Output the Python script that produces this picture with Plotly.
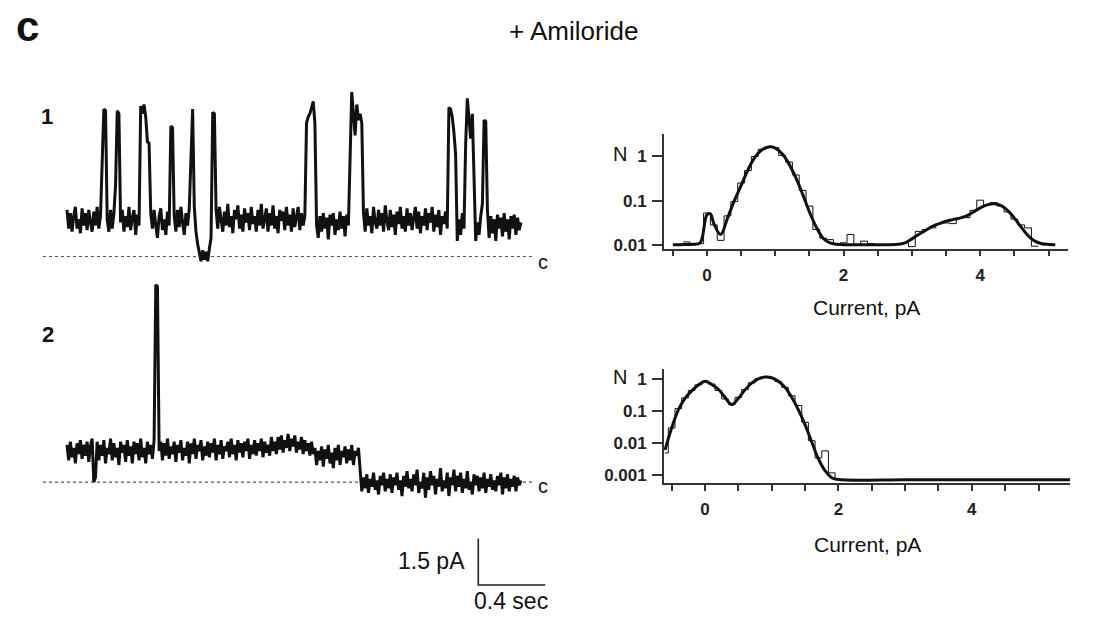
import plotly.graph_objects as go

FONT = "Liberation Sans, Arial, sans-serif"

# ---------------- data ----------------
DT = 0.01  # s per sample
# Trace 1 current (pA, relative to closed level "c")
trace1_pA = [
    1.5, 0.9, 1.4, 0.8, 1.3, 1.6, 0.9, 1.2, 0.75, 1.55,
    1.0, 1.4, 0.85, 1.5, 1.1, 0.8, 1.45, 1.0, 1.6, 0.9,
    1.3, 3.5, 4.75, 4.7, 1.2, 0.8, 1.5, 0.9, 1.4, 2.3,
    4.7, 4.6, 1.1, 1.5, 0.8, 1.3, 0.95, 1.6, 0.85, 1.25,
    1.5, 0.7, 1.35, 1.0, 4.85, 4.6, 4.9, 4.5, 3.7, 3.65,
    1.4, 0.9, 1.5, 1.0, 0.6, 1.3, 1.55, 0.85, 1.2, 0.7,
    1.45, 1.0, 4.2, 4.15, 1.3, 0.8, 1.5, 0.95, 1.6, 1.1,
    0.7, 1.4, 1.0, 1.55, 3.0, 4.75, 1.6, 0.8, 0.4, 0.1,
    -0.15, 0.2, -0.1, 0.15, -0.15, 0.25, 0.6, 4.65, 4.6, 1.5,
    0.9, 1.6, 1.1, 0.8, 1.45, 1.0, 1.7, 0.95, 1.3, 0.75,
    1.5, 1.2, 1.65, 0.9, 1.35, 0.8, 1.55, 1.1, 1.4, 0.85,
    1.6, 1.05, 1.3, 0.8, 1.5, 1.0, 1.7, 0.9, 1.2, 1.55,
    0.8, 1.4, 1.0, 1.65, 0.9, 1.3, 0.75, 1.5, 1.15, 1.45,
    0.85, 1.6, 1.0, 1.35, 0.8, 1.55, 0.95, 1.25, 1.6, 0.85,
    1.4, 1.0, 1.3, 4.3, 4.5, 4.6, 4.8, 5.0, 4.3, 1.0,
    0.6, 1.3, 0.8, 1.4, 0.9, 1.25, 0.55, 1.35, 1.0, 1.4,
    0.7, 1.2, 0.85, 1.45, 0.9, 1.3, 0.65, 1.35, 1.0, 3.1,
    5.3, 4.6, 3.9, 4.9, 4.4, 4.6, 4.3, 1.4, 0.8, 1.55,
    1.0, 1.3, 0.75, 1.6, 1.1, 0.9, 1.5, 1.0, 1.4, 0.8,
    1.65, 1.15, 0.85, 1.5, 0.95, 1.35, 0.7, 1.45, 1.05, 1.6,
    0.9, 1.3, 0.8, 1.55, 1.0, 1.4, 0.85, 1.25, 1.6, 0.9,
    1.45, 0.75, 1.3, 1.0, 1.55, 0.85, 1.4, 1.1, 1.6, 0.8,
    1.35, 0.95, 1.5, 0.7, 1.3, 1.05, 1.45, 0.9, 4.8, 4.75,
    4.5, 4.0, 3.3, 0.5, 1.2, 0.7, 1.4, 0.9, 3.6, 5.1,
    4.5, 3.8, 4.6, 2.0, 0.5, 1.1, 0.7, 1.3, 1.7, 4.4,
    4.35, 1.5, 0.6, 1.3, 0.75, 1.2, 0.5, 1.35, 0.9, 1.25,
    0.65, 1.4, 0.8, 1.2, 0.55, 1.3, 0.9, 1.35, 0.7, 1.25,
    0.85, 1.1,
]
# Trace 2 current (pA, relative to closed level "c")
trace2_pA = [
    1.2, 0.7, 1.3, 0.8, 1.1, 0.6, 1.25, 0.9, 1.35, 0.75,
    1.2, 0.85, 1.3, 0.65, 1.15, 1.4, 0.0, 0.15, 1.3, 0.7,
    1.2, 0.85, 1.35, 0.6, 1.1, 0.9, 1.4, 0.7, 1.25, 0.8,
    1.1, 0.55, 1.3, 0.95, 1.2, 0.65, 1.35, 0.85, 1.15, 0.6,
    1.3, 0.9, 1.25, 0.7, 1.4, 0.8, 1.1, 0.6, 1.3, 0.9,
    1.2, 0.75, 1.35, 6.36, 6.3, 1.0, 1.3, 0.7, 1.25, 0.85,
    1.4, 0.75, 1.15, 0.9, 1.3, 0.65, 1.2, 0.95, 1.35, 0.7,
    1.1, 0.85, 1.3, 0.6, 1.25, 0.9, 1.4, 0.75, 1.2, 1.0,
    1.35, 0.7, 1.15, 0.85, 1.3, 0.8, 1.25, 0.95, 1.4, 0.7,
    1.2, 0.9, 1.35, 0.75, 1.15, 1.0, 1.3, 0.8, 1.4, 0.9,
    1.2, 0.7, 1.35, 0.95, 1.25, 0.8, 1.3, 1.0, 1.4, 0.75,
    1.2, 0.9, 1.35, 0.85, 1.25, 1.0, 1.4, 0.8, 1.3, 0.95,
    1.2, 0.85, 1.45, 1.0, 1.3, 0.9, 1.45, 1.05, 1.5, 0.95,
    1.35, 1.1, 1.55, 1.0, 1.4, 1.15, 1.5, 0.95, 1.3, 1.05,
    1.45, 0.9, 1.35, 1.0, 1.25, 0.85, 1.3, 0.9, 1.1, 0.55,
    1.0, 0.7, 1.15, 0.5, 1.05, 0.75, 1.2, 0.6, 0.95, 0.45,
    1.1, 0.7, 1.2, 0.55, 1.0, 0.8, 1.15, 0.6, 1.05, 0.7,
    1.2, 0.55, 1.0, 0.85, 1.1, 0.2, -0.3, 0.15, -0.2, 0.25,
    -0.35, 0.1, -0.15, 0.3, -0.25, 0.05, -0.4, 0.2, -0.1, 0.3,
    -0.3, 0.1, -0.2, 0.25, -0.35, 0.15, -0.1, 0.3, -0.25, 0.05,
    -0.45, 0.2, -0.15, 0.35, -0.2, 0.1, -0.3, 0.25, -0.1, 0.4,
    -0.35, 0.0, -0.2, 0.3, -0.5, 0.15, -0.25, 0.35, -0.1, 0.2,
    -0.4, 0.1, -0.15, 0.45, -0.3, 0.05, -0.2, 0.3, -0.45, 0.15,
    -0.1, 0.4, -0.3, 0.2, -0.15, 0.3, -0.35, 0.1, -0.2, 0.35,
    -0.25, 0.0, -0.4, 0.25, -0.1, 0.2, -0.3, 0.15, -0.2, 0.3,
    -0.35, 0.1, -0.15, 0.25, -0.25, 0.05, -0.3, 0.2, -0.1, 0.3,
    -0.4, 0.15, -0.2, 0.25, -0.3, 0.1, -0.15, 0.2, -0.3, 0.15,
    -0.1, 0.05,
]

# Histogram 1 (amplitude histogram, log N) - fit curve
fit1_x = [-0.5, -0.4, -0.3, -0.2, -0.1, 0.0, 0.05, 0.1, 0.2, 0.3, 0.4, 0.5, 0.6, 0.7,
          0.8, 0.9, 1.0, 1.1, 1.2, 1.3, 1.4, 1.5, 1.6, 1.7, 1.8, 1.9, 2.0, 2.4, 2.8,
          2.9, 3.0, 3.1, 3.2, 3.3, 3.4, 3.5, 3.6, 3.7, 3.8, 3.9, 4.0, 4.1, 4.2, 4.3,
          4.4, 4.5, 4.6, 4.7, 4.8, 4.9, 5.0, 5.1]
fit1_N = [0.0100, 0.0100, 0.0101, 0.0102, 0.0110, 0.048, 0.050, 0.030, 0.017, 0.040,
          0.10, 0.22, 0.50, 0.95, 1.40, 1.65, 1.55, 1.15, 0.68, 0.33, 0.14, 0.055,
          0.025, 0.014, 0.011, 0.0102, 0.0100, 0.0099, 0.0102, 0.0110, 0.0135, 0.017,
          0.021, 0.026, 0.030, 0.034, 0.037, 0.040, 0.045, 0.055, 0.068, 0.080, 0.085,
          0.078, 0.060, 0.040, 0.025, 0.016, 0.012, 0.0105, 0.0101, 0.0100]
# Histogram 1 - bins (left edges, 0.1 pA wide)
hist1_x = [-0.35, -0.25, -0.15, -0.05, 0.05, 0.15, 0.25, 0.35, 0.45, 0.55, 0.65, 0.75,
           0.85, 0.95, 1.05, 1.15, 1.25, 1.35, 1.45, 1.55, 1.65, 1.75, 1.85, 1.95,
           2.05, 2.15, 2.25, 2.35, 2.45, 2.55, 2.65, 2.75, 2.85, 2.95, 3.05, 3.15,
           3.25, 3.35, 3.45, 3.55, 3.65, 3.75, 3.85, 3.95, 4.05, 4.15, 4.25, 4.35,
           4.45, 4.55, 4.65, 4.75, 4.85]
hist1_N = [0.0115, 0.0100, 0.0105, 0.052, 0.028, 0.0125, 0.045, 0.095, 0.25, 0.48,
           1.0, 1.45, 1.62, 1.60, 1.05, 0.75, 0.38, 0.17, 0.075, 0.022, 0.014, 0.013,
           0.0105, 0.011, 0.017, 0.010, 0.012, 0.0105, 0.0100, 0.0100, 0.0100, 0.0105,
           0.0110, 0.0090, 0.020, 0.022, 0.024, 0.030, 0.031, 0.030, 0.040, 0.041,
           0.060, 0.102, 0.080, 0.090, 0.075, 0.055, 0.038, 0.028, 0.024, 0.0092, 0.0092]

# Histogram 2 - fit curve
fit2_x = [-0.6, -0.5, -0.4, -0.3, -0.2, -0.1, 0.0, 0.1, 0.2, 0.3, 0.4, 0.5, 0.6, 0.7,
          0.8, 0.9, 1.0, 1.1, 1.2, 1.3, 1.4, 1.5, 1.6, 1.7, 1.8, 1.9, 2.0, 3.0, 4.0,
          5.0, 5.5]
fit2_N = [0.0062, 0.030, 0.11, 0.25, 0.43, 0.65, 0.85, 0.68, 0.48, 0.27, 0.16, 0.25,
          0.46, 0.75, 1.02, 1.15, 1.10, 0.85, 0.55, 0.27, 0.11, 0.038, 0.011, 0.0033,
          0.0014, 0.00085, 0.00074, 0.00073, 0.00073, 0.00073, 0.00073]
# Histogram 2 - bins (left edges)
hist2_x = [-0.6, -0.55, -0.45, -0.35, -0.25, -0.15, -0.05, 0.05, 0.15, 0.25, 0.35, 0.45,
           0.55, 0.65, 0.75, 0.85, 0.95, 1.05, 1.15, 1.25, 1.35, 1.45, 1.55, 1.65,
           1.75, 1.85, 1.95]
hist2_N = [0.005, 0.03, 0.12, 0.26, 0.44, 0.66, 0.84, 0.70, 0.44, 0.24, 0.16, 0.27,
           0.47, 0.76, 1.03, 1.15, 1.08, 0.83, 0.55, 0.30, 0.15, 0.045, 0.012, 0.0035,
           0.0058, 0.0012, 0.00073]

hist_tickvals = [-0.5, 0.0, 0.5, 1.0, 1.5, 2.0, 2.5, 3.0, 3.5, 4.0, 4.5, 5.0, 5.5]
hist_ticktext = ["", "0", "", "", "", "2", "", "", "", "4", "", "", ""]
ytick1_vals = [1, 0.1, 0.01]
ytick1_text = ["1", "0.1", "0.01"]
ytick2_vals = [1, 0.1, 0.01, 0.001]
ytick2_text = ["1", "0.1", "0.01", "0.001"]

SCALE_PA = 1.5
SCALE_S = 0.4

# ---------------- layout geometry ----------------
W, H = 1111, 627
PX_PER_S = 167.5
PX_PER_PA = 31.33

def fy(px):
    return (H - px) / H

t1 = [i * DT for i in range(len(trace1_pA))]
t2 = [i * DT for i in range(len(trace2_pA))]

fig = go.Figure()
BLACK = "#111111"

# closed-level dashed lines
dash_t = [(43 - 67) / PX_PER_S, (533 - 67) / PX_PER_S]
fig.add_trace(go.Scatter(x=dash_t, y=[0, 0], mode="lines", xaxis="x", yaxis="y",
                         line=dict(color="#555555", width=1.2, dash="3px,3px")))
fig.add_trace(go.Scatter(x=dash_t, y=[0, 0], mode="lines", xaxis="x", yaxis="y2",
                         line=dict(color="#555555", width=1.2, dash="3px,3px")))
# current traces
fig.add_trace(go.Scatter(x=t1, y=trace1_pA, mode="lines", xaxis="x", yaxis="y",
                         line=dict(color=BLACK, width=3)))
fig.add_trace(go.Scatter(x=t2, y=trace2_pA, mode="lines", xaxis="x", yaxis="y2",
                         line=dict(color=BLACK, width=3)))
# scale bar
sb_x0 = (478.3 - 67) / PX_PER_S
sb_y0 = (486.7 - 590.7) / PX_PER_PA
fig.add_trace(go.Scatter(x=[sb_x0, sb_x0, sb_x0 + SCALE_S],
                         y=[sb_y0 + SCALE_PA, sb_y0, sb_y0], mode="lines",
                         xaxis="x", yaxis="y2", line=dict(color="#222222", width=1.6)))

# histograms
fig.add_trace(go.Scatter(x=hist1_x, y=hist1_N, mode="lines", line_shape="hv",
                         xaxis="x3", yaxis="y3", line=dict(color=BLACK, width=1)))
fig.add_trace(go.Scatter(x=fit1_x, y=fit1_N, mode="lines", line_shape="spline",
                         xaxis="x3", yaxis="y3", line=dict(color=BLACK, width=3)))
fig.add_trace(go.Scatter(x=hist2_x, y=hist2_N, mode="lines", line_shape="hv",
                         xaxis="x4", yaxis="y4", line=dict(color=BLACK, width=1)))
fig.add_trace(go.Scatter(x=fit2_x, y=fit2_N, mode="lines", line_shape="spline",
                         xaxis="x4", yaxis="y4", line=dict(color=BLACK, width=3)))

hidden = dict(visible=False, showgrid=False, zeroline=False)

tickfont = dict(family=FONT, size=17, color="#222222", weight="bold")
hx_common = dict(showline=True, linecolor="#333333", linewidth=1.8, ticks="outside",
                 ticklen=6, tickwidth=1.5, tickcolor="#333333", tickvals=hist_tickvals,
                 ticktext=hist_ticktext, tickfont=tickfont, showgrid=False,
                 zeroline=False, ticklabelstandoff=4)
hy_common = dict(type="log", showline=True, linecolor="#333333", linewidth=1.8,
                 ticks="outside", ticklen=10, tickwidth=1.5, tickcolor="#333333",
                 tickfont=tickfont, showgrid=False, zeroline=False,
                 ticklabelstandoff=2)

fig.update_layout(
    width=W, height=H, margin=dict(l=0, r=0, t=0, b=0),
    paper_bgcolor="white", plot_bgcolor="rgba(0,0,0,0)", showlegend=False,
    xaxis=dict(domain=[0, 0.5], range=[-67 / PX_PER_S, (555.5 - 67) / PX_PER_S], **hidden),
    yaxis=dict(domain=[fy(280), fy(85)], range=[-(280 - 259) / PX_PER_PA, (259 - 85) / PX_PER_PA],
               anchor="x", **hidden),
    yaxis2=dict(domain=[0, fy(280)], range=[-(627 - 486.7) / PX_PER_PA, (486.7 - 280) / PX_PER_PA],
                anchor="x", **hidden),
    xaxis3=dict(domain=[664 / W, 1068 / W], range=[(664 - 707) / 68.3, (1068 - 707) / 68.3],
                anchor="y3", **hx_common),
    yaxis3=dict(domain=[fy(251), fy(135)], range=[-2.09, 0.517], anchor="x3",
                tickvals=ytick1_vals, ticktext=ytick1_text, **hy_common),
    xaxis4=dict(domain=[664 / W, 1070 / W], range=[(664 - 705) / 66.7, (1070 - 705) / 66.7],
                anchor="y4", **hx_common),
    yaxis4=dict(domain=[fy(487.7), fy(373)], range=[-3.2377, 0.2994], anchor="x4",
                tickvals=ytick2_vals, ticktext=ytick2_text, **hy_common),
)

def paper_text(text, x, y, size, bold=False, xanchor="center"):
    fig.add_annotation(text=text, x=x / W, y=fy(y), xref="paper", yref="paper",
                       showarrow=False, xanchor=xanchor, yanchor="middle",
                       font=dict(family=FONT, size=size, color="#111111",
                                 weight="bold" if bold else "normal"))

paper_text("c", 27, 27, 42, bold=True)
paper_text("+ Amiloride", 573, 31, 26)
paper_text("1", 47, 118, 22, bold=True)
paper_text("2", 48, 338, 22, bold=True)
paper_text("c", 543, 265, 20)
paper_text("c", 543, 491, 20)
paper_text("N", 620, 155, 20)
paper_text("N", 620, 381, 20)
paper_text("Current, pA", 866, 310, 21)
paper_text("Current, pA", 867, 550, 21)
paper_text("1.5 pA", 467, 566, 23, xanchor="right")
paper_text("0.4 sec", 511, 607, 23)

fig.write_html("out.html")
